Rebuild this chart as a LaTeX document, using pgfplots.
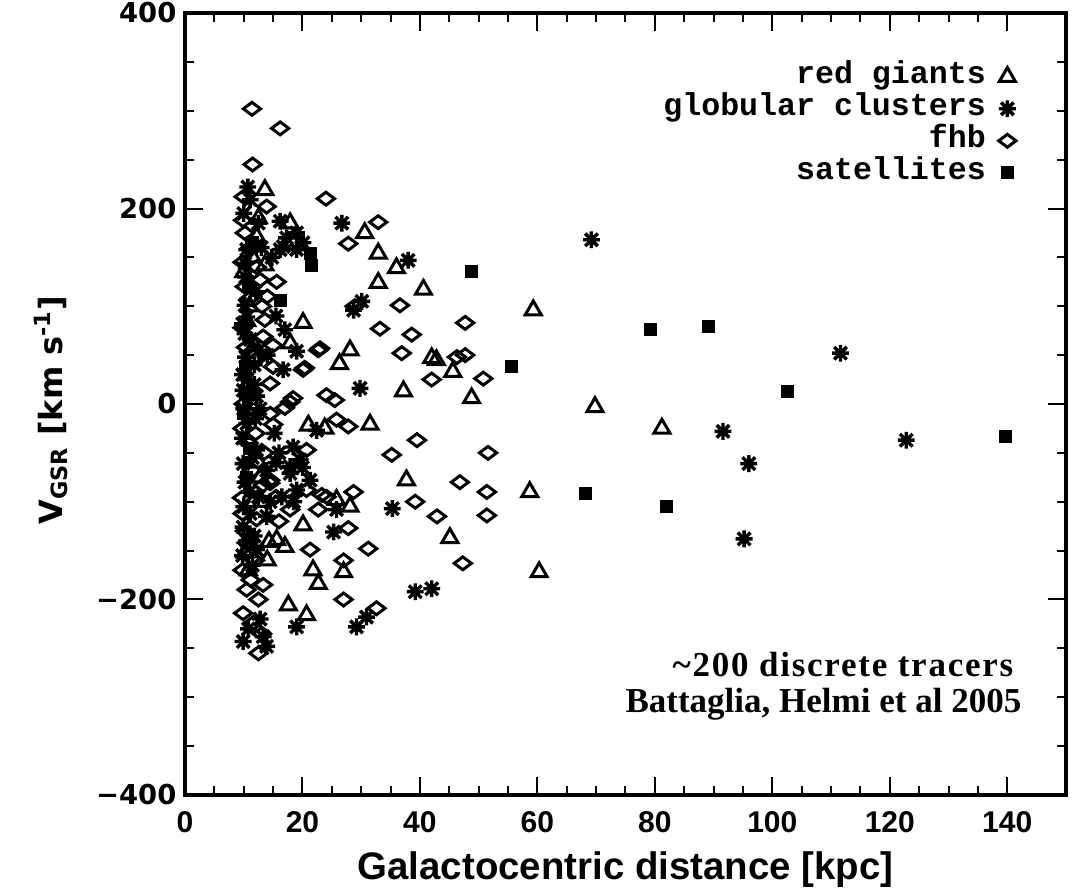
\documentclass[border=0pt]{standalone}
\usepackage{fontspec}
\usepackage{pgfplots}
\pgfplotsset{compat=1.18}

\newfontfamily\ticksans{DejaVu Sans}
\newfontfamily\labsans{Liberation Sans}
\newfontfamily\legmono{Liberation Mono}
\newfontfamily\notefont{Liberation Serif}

% eight-armed asterisk used for the globular clusters
\pgfdeclareplotmark{ast8}{%
  \pgfpathmoveto{\pgfqpoint{0pt}{\pgfplotmarksize}}%
  \pgfpathlineto{\pgfqpoint{0pt}{-\pgfplotmarksize}}%
  \pgfpathmoveto{\pgfqpoint{\pgfplotmarksize}{0pt}}%
  \pgfpathlineto{\pgfqpoint{-\pgfplotmarksize}{0pt}}%
  \pgfpathmoveto{\pgfqpoint{.75\pgfplotmarksize}{.75\pgfplotmarksize}}%
  \pgfpathlineto{\pgfqpoint{-.75\pgfplotmarksize}{-.75\pgfplotmarksize}}%
  \pgfpathmoveto{\pgfqpoint{-.75\pgfplotmarksize}{.75\pgfplotmarksize}}%
  \pgfpathlineto{\pgfqpoint{.75\pgfplotmarksize}{-.75\pgfplotmarksize}}%
  \pgfusepathqstroke}

\pgfplotstableread{
x y
13.6 219
12.5 190
17.9 185
30.6 175
12.2 171
11.5 150
10.0 135
13.6 142
32.9 154
32.9 124
36.0 139
40.6 117
11.0 100
10.5 85
20.1 83
11.8 60
17.9 62
28.1 55
26.3 41
42.0 47
42.8 45
45.6 33
37.2 13
48.8 6
59.3 96
69.8 -3
81.2 -25
10.5 -5
31.5 -21
21.0 -22
23.8 -25
12.5 -60
12.8 -75
13.0 -100
25.8 -98
28.1 -105
37.7 -78
20.1 -124
15.6 -139
17.0 -146
14.3 -141
10.2 -152
14.0 -160
10.8 -170
21.8 -170
22.7 -184
27.0 -172
17.6 -206
20.7 -216
45.1 -137
58.7 -90
60.3 -172
}\redgiants

\pgfplotstableread{
x y
10.7 222
11.1 209
10.0 195
12.5 185
16.2 187
26.7 185
19.0 175
17.3 170
16.7 161
20.1 165
16.2 158
19.0 158
10.5 158
13.0 160
14.8 150
10.2 144
10.3 130
12.0 115
38.0 147
10.2 101
10.5 89
15.5 90
9.8 82
17.0 76
28.7 96
30.1 105
10.2 72
11.1 66
12.5 55
14.0 50
19.0 54
16.7 35
10.3 48
11.8 40
9.8 30
9.9 14
11.8 20
12.2 8
10.6 25
29.8 16
10.0 -5
12.8 -5
12.0 -15
22.4 -27
15.2 -30
9.8 -35
18.4 -44
16.0 -50
11.5 -55
19.6 -57
15.5 -60
17.9 -64
20.0 -65
21.3 -78
10.2 -80
19.0 -88
16.5 -95
18.5 -100
12.5 -95
14.5 -100
10.0 -105
12.2 -47
9.9 -61
13.9 -68
17.9 -71
25.8 -108
35.3 -107
25.3 -131
11.1 -112
13.9 -115
9.9 -126
11.8 -135
10.5 -140
12.2 -149
9.8 -155
11.5 -165
11.0 -90
10.5 -20
19.0 -228
29.2 -228
30.9 -218
39.2 -192
42.0 -189
12.8 -220
10.8 -230
9.9 -243
13.3 -238
13.9 -248
69.2 168
91.6 -28
111.6 52
122.8 -37
96.0 -61
95.2 -138
}\globulars

\pgfplotstableread{
x y
11.4 302
16.2 282
11.5 245
10.0 212
13.9 202
24.0 210
9.9 188
32.9 186
27.8 164
10.2 175
11.2 160
9.8 145
12.2 140
15.6 125
10.2 120
12.8 127
14.0 110
11.0 108
13.1 100
13.6 86
28.9 100
9.8 78
13.3 69
15.0 60
10.4 58
12.0 45
22.7 55
20.1 35
15.0 38
14.5 21
11.0 12
18.4 6
24.1 9
25.5 4
10.0 0
14.5 -10
36.6 101
47.7 83
33.2 77
38.6 71
36.9 52
46.3 48
47.7 50
42.0 25
23.0 57
20.4 37
17.9 2
17.0 -4
25.8 -16
27.8 -23
15.0 -21
9.8 -25
12.0 -30
10.8 -40
13.5 -50
11.5 -68
39.5 -37
35.2 -52
46.8 -80
39.2 -100
42.9 -115
23.3 -93
28.7 -90
14.5 -81
20.7 -88
20.7 -47
14.5 -78
13.3 -83
15.5 -95
9.7 -96
24.1 -95
17.9 -108
22.7 -108
9.8 -112
12.2 -118
16.0 -120
27.8 -127
10.2 -130
10.5 -142
11.9 -160
9.8 -170
21.3 -149
27.0 -160
11.2 -180
13.3 -185
10.5 -190
12.5 -200
27.0 -200
9.9 -214
11.6 -224
13.1 -235
12.5 -255
32.6 -209
47.3 -163
31.2 -148
50.8 26
51.6 -50
51.4 -90
51.4 -114
}\fhb

\pgfplotstableread{
x y
21.3 154
21.6 142
11.5 165
16.2 106
10.8 120
48.7 136
55.6 38
10.3 38
10.2 10
10.0 -10
11.0 -45
10.5 -75
79.2 76
89.1 79
102.6 13
139.7 -33
68.1 -91
82.0 -105
}\satellites

\begin{document}
\begin{tikzpicture}
\useasboundingbox (-92.5pt,-49pt) rectangle (449pt,397.5pt);
\begin{axis}[
  at={(0pt,0pt)}, anchor=south west,
  scale only axis, width=440.5pt, height=391pt,
  xmin=0, xmax=150, ymin=-400, ymax=400,
  xtick={0,20,...,140}, ytick={-400,-200,0,200,400},
  yticklabels={−400,−200,0,200,400},
  minor x tick num=3, minor y tick num=3,
  tick align=inside,
  major tick length=9pt, minor tick length=4.5pt,
  line width=2pt,
  axis line style={line width=2pt},
  tick style={black, line width=1pt},
  /pgf/number format/assume math mode=true,
  xticklabel style={font=\labsans\bfseries\fontsize{15}{18}\selectfont, yshift=-4pt},
  yticklabel style={font=\ticksans\bfseries\fontsize{13.7}{16}\selectfont},
  xlabel={Galactocentric distance [kpc]},
  xlabel style={font=\labsans\bfseries\fontsize{19.2}{22}\selectfont,
    at={(axis description cs:0.5,-0.096)}, anchor=center},
  ylabel={V\textsubscript{GSR} [km s\textsuperscript{-1}]},
  ylabel style={font=\ticksans\bfseries\fontsize{16}{19}\selectfont,
    at={(axis description cs:-0.152,0.492)}, anchor=center},
  legend style={draw=none, fill=none,
    at={(axis description cs:0.9455,0.937)}, anchor=north east,
    font=\legmono\bfseries\fontsize{15.8}{18}\selectfont,
    inner sep=0pt, row sep=3.5pt, column sep=6pt,
    nodes={inner sep=0.5pt, text height=9pt, text depth=2.5pt}},
  legend cell align=right,
  legend plot pos=right,
  legend image code/.code={\draw[#1] plot coordinates {(5pt,0pt)};},
]
\addplot[black, only marks, mark=triangle, mark size=4.6pt,
  mark options={line width=1.5pt}] table {\redgiants};
\addlegendentry{red giants}
\addplot[black, only marks, mark=ast8, mark size=4.2pt,
  mark options={line width=1.7pt}] table {\globulars};
\addlegendentry{globular clusters}
\addplot[black, only marks, mark=diamond, mark size=4.3pt,
  mark options={line width=1.5pt, rotate=90}] table {\fhb};
\addlegendentry{fhb}
\addplot[black, only marks, mark=square*, mark size=3pt,
  mark options={line width=0.4pt, fill=black}] table {\satellites};
\addlegendentry{satellites}

\node[anchor=base east, font=\notefont\bfseries\fontsize{17.5}{20}\selectfont\addfontfeature{LetterSpace=5}]
  at (axis description cs:0.950,0.152) {\textasciitilde 200 discrete tracers};
\node[anchor=base east, font=\notefont\bfseries\fontsize{17.5}{20}\selectfont]
  at (axis description cs:0.959,0.106) {Battaglia, Helmi et al 2005};
\end{axis}
\end{tikzpicture}
\end{document}
